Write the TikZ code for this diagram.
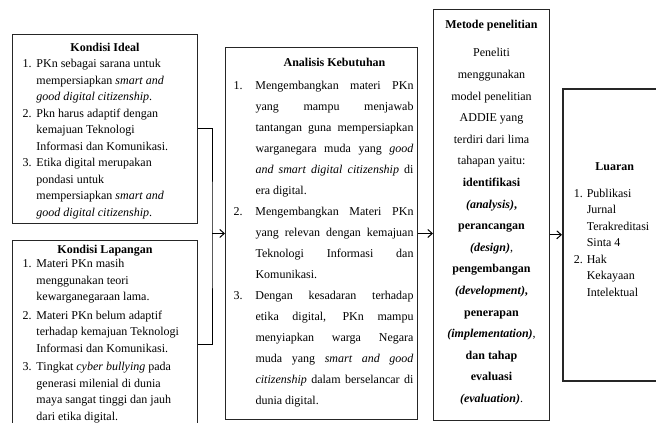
\documentclass[tikz,border=0pt]{standalone}
\usepackage{fontspec}
\setmainfont{Liberation Serif}
\usetikzlibrary{arrows.meta,calc}

\hbadness=10000
\hfuzz=100pt

% hanging list item: #1 = hang width, #2 = number
\newcommand{\butir}[2]{\par\hangindent=#1\hangafter=1\noindent\makebox[#1][l]{#2}\ignorespaces}

\begin{document}
\begin{tikzpicture}[
    x=1pt, y=1pt,
    kotak/.style={
        draw=black!85,
        line width=1pt,
        anchor=north west,
        inner sep=0pt,
        font=\fontsize{12}{16.5}\selectfont
    },
    panah/.style={-{Straight Barb[length=4.5pt,width=8pt]}, line width=1pt},
    garis/.style={line width=1pt}
]
\useasboundingbox (0,0) rectangle (656,423);
\clip (0,0) rectangle (656,423);

% === KONDISI IDEAL ===
\node[kotak] (ideal) at (12,389) {\parbox[c][189pt][t]{185pt}{%
    \vspace*{8.5pt}
    {\centering\bfseries Kondisi Ideal\par}
    \leftskip=10pt
    \butir{14pt}{1.}PKn sebagai sarana untuk\newline
        mempersiapkan \textit{smart and}\newline
        \textit{good digital citizenship}.\par
    \butir{14pt}{2.}Pkn harus adaptif dengan\newline
        kemajuan Teknologi\newline
        Informasi dan Komunikasi.\par
    \butir{14pt}{3.}Etika digital merupakan\newline
        pondasi untuk\newline
        mempersiapkan \textit{smart and}\newline
        \textit{good digital citizenship}.\par
}};

% === KONDISI LAPANGAN ===
\node[kotak] (lapangan) at (12,183) {\parbox[c][208pt][t]{185pt}{%
    \vspace*{5pt}
    {\centering\bfseries Kondisi Lapangan\par}
    \vspace{-2.5pt}
    \leftskip=10pt
    \butir{14pt}{1.}Materi PKn masih\newline
        menggunakan teori\newline
        kewarganegaraan lama.\par
    \vspace{2pt}
    \butir{14pt}{2.}Materi PKn belum adaptif\newline
        terhadap kemajuan Teknologi\newline
        Informasi dan Komunikasi.\par
    \vspace{2pt}
    \butir{14pt}{3.}Tingkat \textit{cyber bullying} pada\newline
        generasi milenial di dunia\newline
        maya sangat tinggi dan jauh\newline
        dari etika digital.\par
}};

% === ANALISIS KEBUTUHAN ===
\node[kotak] (analisis) at (225,376) {\parbox[c][372pt][t]{192pt}{%
    \fontsize{12}{21}\selectfont
    \vspace*{11pt}
    {\leftskip=30pt plus 1fil\rightskip=4pt plus 1fil\parfillskip=0pt
     \bfseries Analisis Kebutuhan\par}
    \vspace{2pt}
    \leftskip=8pt\rightskip=4pt
    \butir{22pt}{1.}Mengembangkan materi PKn\linebreak
        yang mampu menjawab\linebreak
        tantangan guna mempersiapkan\linebreak
        warganegara muda yang \textit{good}\linebreak
        \textit{and smart digital citizenship} di\linebreak
        era digital.\par
    \butir{22pt}{2.}Mengembangkan Materi PKn\linebreak
        yang relevan dengan kemajuan\linebreak
        Teknologi Informasi dan\linebreak
        Komunikasi.\par
    \butir{22pt}{3.}Dengan kesadaran terhadap\linebreak
        etika digital, PKn mampu\linebreak
        menyiapkan warga Negara\linebreak
        muda yang \textit{smart and good}\linebreak
        \textit{citizenship} dalam berselancar di\linebreak
        dunia digital.\par
}};

% === METODE PENELITIAN ===
\node[kotak] (metode) at (433,414) {\parbox[c][411pt][t]{116pt}{%
    \fontsize{12}{21.6}\selectfont\centering
    \vspace*{11pt}
    {\bfseries Metode penelitian\par}
    \vspace{6.5pt}
    Peneliti\\
    menggunakan\\
    model penelitian\\
    ADDIE yang\\
    terdiri dari lima\\
    tahapan yaitu:\\
    \textbf{identifikasi}\\
    \textbf{\textit{(analysis)},}\\
    \textbf{perancangan}\\
    \textbf{\textit{(design)}},\\
    \textbf{pengembangan}\\
    \textbf{\textit{(development)},}\\
    \textbf{penerapan}\\
    \textbf{\textit{(implementation)}},\\
    \textbf{dan tahap}\\
    \textbf{evaluasi}\\
    \textbf{\textit{(evaluation)}}.\par
}};

% === LUARAN ===
\node[kotak, line width=1.6pt] (luaran) at (562,335) {\parbox[c][292pt][t]{104pt}{%
    \vspace*{74pt}
    {\centering\bfseries Luaran\par}
    \vspace{10pt}
    \leftskip=11pt
    \butir{13pt}{1.}Publikasi\newline
        Jurnal\newline
        Terakreditasi\newline
        Sinta 4\par
    \butir{13pt}{2.}Hak\newline
        Kekayaan\newline
        Intelektual\par
}};

% === CONNECTORS ===
\coordinate (sambung) at ([xshift=14pt]ideal.east |- analisis.west);
\draw[garis] (ideal.east) -| (sambung) |- (lapangan.east);
\draw[panah] (sambung) -- (analisis.west);
\draw[panah] (analisis.east) -- (analisis.east -| metode.west);
\draw[panah] (metode.east |- luaran.west) -- (luaran.west);

\end{tikzpicture}
\end{document}
